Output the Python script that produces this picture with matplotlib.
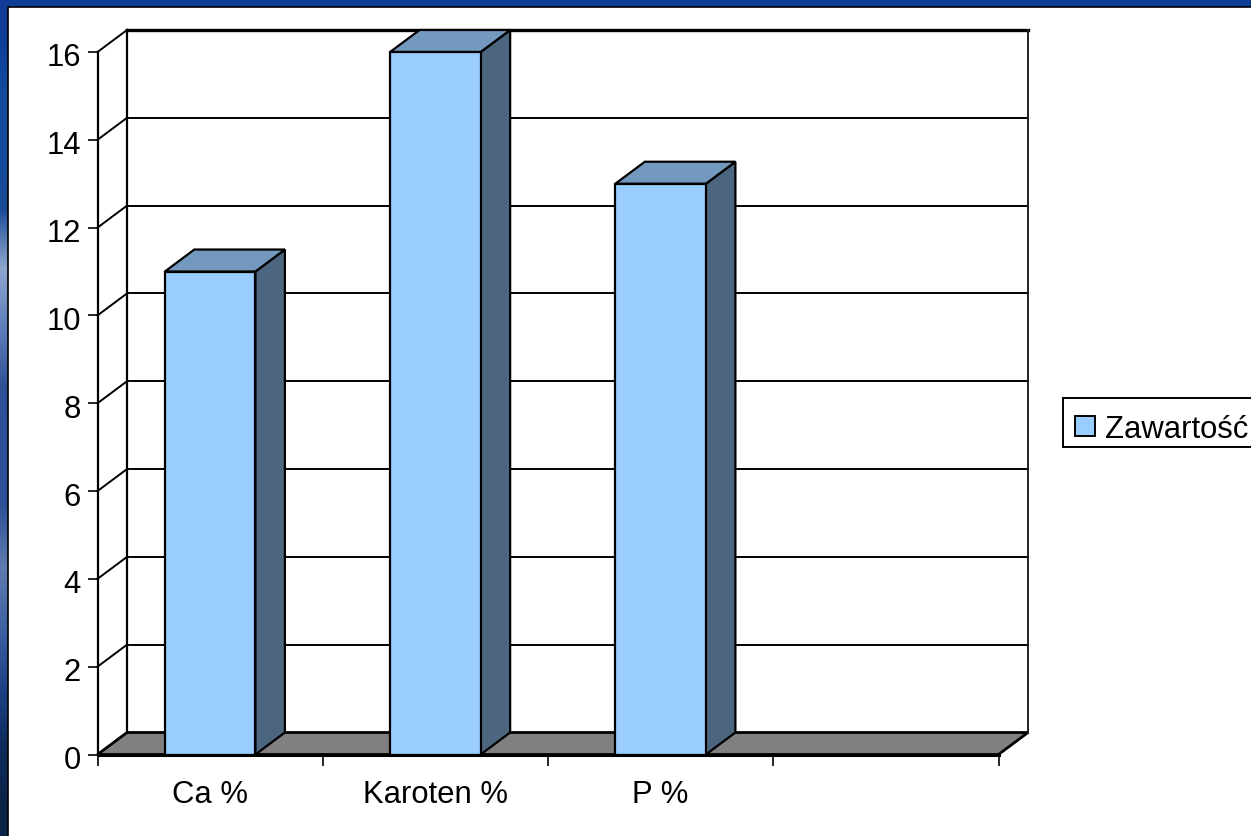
#!/usr/bin/env python3
"""Pseudo-3D column chart: Zawartosc per component."""

import matplotlib
matplotlib.use("Agg")
import matplotlib.pyplot as plt
from matplotlib.colors import to_rgb
from matplotlib.patches import Patch, Polygon, Rectangle
from matplotlib.transforms import ScaledTranslation

categories = ["Ca %", "Karoten %", "P %"]
values = [11, 16, 13]
y_ticks = [0, 2, 4, 6, 8, 10, 12, 14, 16]
x_edges = [0, 1, 2, 3, 4]
legend_label = "Zawartość"

W, H = 1251, 837
FRONT = "#99ccff"
TOP = "#7399bf"
SIDE = "#4d6680"
FLOOR = "#808080"
BACKDROP = "#0e3c96"
# rough colours of the photo backdrop down the left edge, top to bottom
edge_colors = ["#0e3c96", "#124a9e", "#124a9e", "#1a4a94", "#8ea6cf", "#5f7fbb", "#2e5296",
               "#2a5098", "#2e5296", "#5f7cb0", "#3f63a3", "#1d4488", "#0e2c5c", "#0a2448"]

plt.rcParams["font.family"] = ["Liberation Sans", "DejaVu Sans"]

fig = plt.figure(figsize=(W / 100, H / 100), dpi=100, facecolor=BACKDROP)

strip = fig.add_axes([0, 0, 8 / W, 1], zorder=-2)
strip.imshow([[to_rgb(c)] for c in edge_colors], aspect="auto", interpolation="bilinear")
strip.axis("off")

bg = fig.add_axes([0, 0, 1, 1], zorder=-1)
bg.axis("off")
bg.add_artist(Rectangle((8 / W, -0.01), 1, 1.01 - 8 / H, transform=fig.transFigure,
                        facecolor="white", edgecolor="black", linewidth=1.2))
# legend frame runs off the right edge, like in the slide
bg.add_artist(Rectangle((1063 / W, 1 - 448 / H), 1, 49 / H, transform=fig.transFigure,
                        facecolor="white", edgecolor="black", linewidth=1.4))

# axes box is the front plane of the chart
left, right, bottom, top = 97.5, 998.5, 755.5, 53.0
ax = fig.add_axes([left / W, 1 - bottom / H, (right - left) / W, (bottom - top) / H])
ax.set_xlim(0, 4)
ax.set_ylim(0, 16)
ax.patch.set_alpha(0)

# depth of the fake 3D, in data units
dx = 29.5 / ((right - left) / 4)
dy = 22.0 / ((bottom - top) / 16)
bar_w = 0.402

# floor
ax.add_patch(Polygon([(0, 0), (4, 0), (4 + dx, dy), (dx, dy)], facecolor=FLOOR,
                     edgecolor="black", linewidth=2, clip_on=False, zorder=1))

# back wall + grid
for v in y_ticks[1:]:
    lw = 2.4 if v == 16 else 1.4
    ax.plot([dx, 4 + dx], [v + dy, v + dy], color="black", lw=lw, clip_on=False, zorder=1)
    ax.plot([0, dx], [v, v + dy], color="black", lw=1.4, clip_on=False, zorder=1)
ax.plot([dx, dx], [dy, 16 + dy], color="black", lw=1.6, clip_on=False, zorder=1)
ax.plot([4 + dx, 4 + dx], [dy, 16 + dy], color="#222222", lw=1.4, clip_on=False, zorder=1)

# columns
for i, val in enumerate(values):
    x0 = i + 0.5 - bar_w / 2
    x1 = x0 + bar_w
    style = dict(edgecolor="black", linewidth=1.6, clip_on=False, zorder=3, joinstyle="miter")
    ax.add_patch(Polygon([(x1, 0), (x1 + dx, dy), (x1 + dx, val + dy), (x1, val)], facecolor=SIDE, **style))
    ax.add_patch(Polygon([(x0, val), (x1, val), (x1 + dx, val + dy), (x0 + dx, val + dy)], facecolor=TOP, **style))
    ax.add_patch(Polygon([(x0, 0), (x1, 0), (x1, val), (x0, val)], facecolor=FRONT, **style))

for side in ["top", "right"]:
    ax.spines[side].set_visible(False)
ax.spines["left"].set_linewidth(1.6)
ax.spines["bottom"].set_linewidth(2.2)
ax.spines["left"].set_zorder(4)
ax.spines["bottom"].set_zorder(4)

ax.set_yticks(y_ticks)
ax.set_xticks(x_edges)
ax.set_xticklabels([])
ax.set_xticks([i + 0.5 for i in range(len(categories))], labels=categories, minor=True)
ax.tick_params(axis="y", length=7.5, width=1.2, pad=4.5, labelsize=22.3)
ax.tick_params(axis="x", which="major", length=8, width=1.2, labelbottom=False)
ax.tick_params(axis="x", which="minor", length=0, pad=18, labelsize=22.3)

# tick numbers sit a little under their ticks
nudge = ScaledTranslation(0, -2 / 100, fig.dpi_scale_trans)
for label in ax.get_yticklabels():
    label.set_transform(label.get_transform() + nudge)

handle = Patch(facecolor=FRONT, edgecolor="black", linewidth=1.4, label=legend_label)
ax.legend(handles=[handle], loc="center left", bbox_to_anchor=(1063 / W, 1 - 430 / H),
          bbox_transform=fig.transFigure, fontsize=22.3, frameon=False, borderaxespad=0,
          borderpad=0.4, handlelength=0.63, handleheight=0.63, handletextpad=0.33)

fig.savefig("out.png", dpi=100, facecolor=fig.get_facecolor())
